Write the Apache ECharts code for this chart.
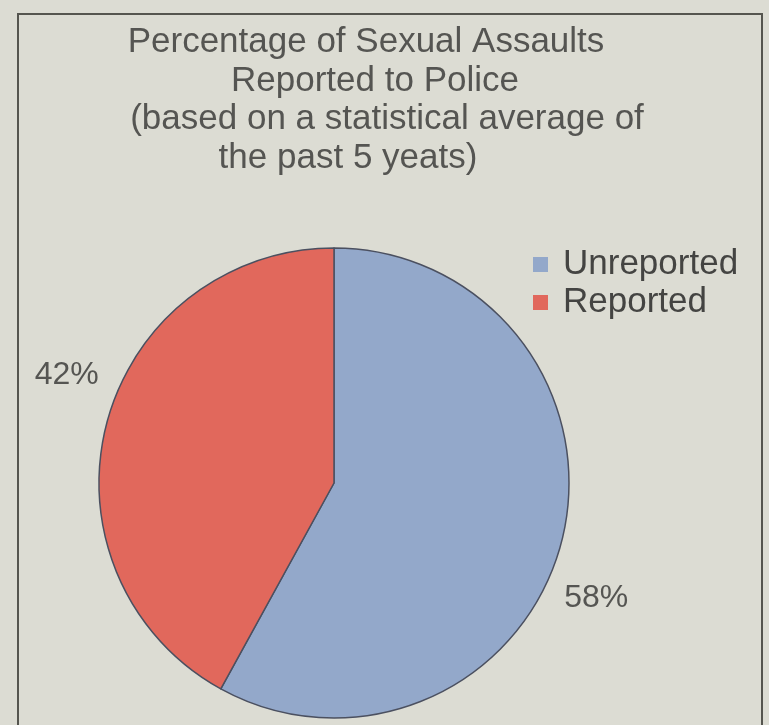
<!DOCTYPE html>
<html>
<head>
<meta charset="utf-8">
<title>Percentage of Sexual Assaults Reported to Police</title>
<script src="https://cdn.jsdelivr.net/npm/echarts@6/dist/echarts.min.js"></script>
<style>
  html, body { margin: 0; padding: 0; background: #dcdcd3; }
  #chart { width: 769px; height: 725px; }
</style>
</head>
<body>
<div id="chart"></div>
<script>
// data
const categories = ['Unreported', 'Reported']
const values = [58, 42]
const colors = ['#93a8ca', '#e1685c']
const titleLines = [
  'Percentage of Sexual Assaults',
  'Reported to Police',
  '(based on a statistical average of',
  'the past 5 yeats)'
]

const chart = echarts.init(document.getElementById('chart'))

// title line centres
const lineX = [366, 375, 387, 348]
const lineY = [25, 64, 102, 141]

const option = {
  backgroundColor: '#dcdcd3',
  animation: false,
  title: titleLines.map((t, i) => ({
    text: t,
    left: lineX[i],
    top: lineY[i],
    textAlign: 'center',
    padding: 0,
    textStyle: {
      fontFamily: 'Liberation Sans, Arial, sans-serif',
      fontSize: 35,
      fontWeight: 'normal',
      color: '#555552'
    }
  })),
  legend: {
    orient: 'vertical',
    left: 528,
    top: 242,
    icon: 'rect',
    itemWidth: 15,
    itemHeight: 15,
    itemGap: 3,
    selectedMode: false,
    data: categories,
    itemStyle: { borderWidth: 0 },
    textStyle: {
      fontFamily: 'Liberation Sans, Arial, sans-serif',
      fontSize: 35,
      color: '#444442',
      padding: [0, 0, 0, 10]
    }
  },
  graphic: [
    {
      type: 'rect',
      shape: { x: 18, y: 14, width: 744, height: 730 },
      style: { fill: 'none', stroke: '#55554f', lineWidth: 2 },
      silent: true,
      z: 0
    }
  ],
  series: [
    {
      type: 'pie',
      center: [334, 483],
      radius: 235,
      startAngle: 90,
      clockwise: true,
      data: categories.map((name, i) => ({
        name,
        value: values[i],
        itemStyle: { color: colors[i] }
      })),
      itemStyle: {
        borderColor: '#4b5060',
        borderWidth: 1.5
      },
      label: {
        show: true,
        position: 'outside',
        formatter: '{d}%',
        fontFamily: 'Liberation Sans, Arial, sans-serif',
        fontSize: 32,
        color: '#555552'
      },
      labelLine: { show: false, length: 12, length2: 0 },
      labelLayout: (p) => (p.dataIndex === 0 ? { dx: -14, dy: 54 } : { dx: 9, dy: -46 }),
      emphasis: { disabled: true }
    }
  ]
}

chart.setOption(option)
</script>
</body>
</html>
